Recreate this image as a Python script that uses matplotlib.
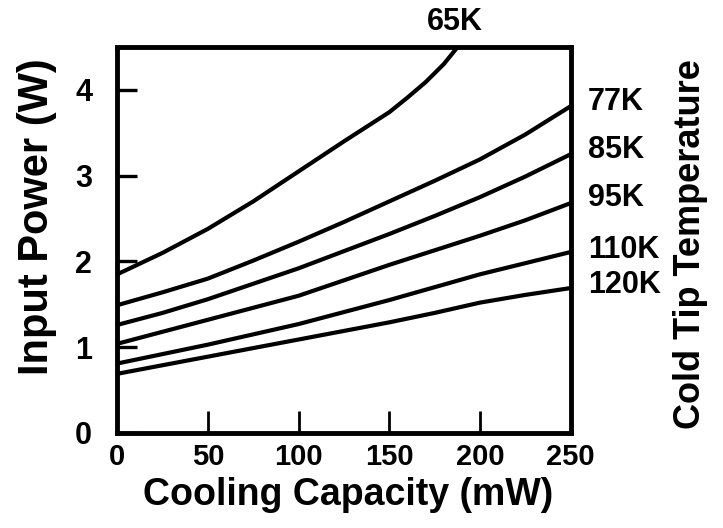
import matplotlib
matplotlib.use("Agg")
import matplotlib.pyplot as plt

plt.rcParams['font.family'] = ['Liberation Sans', 'DejaVu Sans']
plt.rcParams['font.weight'] = 'bold'

# Cooling capacity (mW)
capacity = [0, 25, 50, 75, 100, 125, 150, 175, 200, 225, 250]
# Input power (W) for each cold tip temperature
p65_x = [0, 25, 50, 75, 100, 125, 150, 160, 170, 180, 190]
p65 = [1.85, 2.10, 2.38, 2.70, 3.05, 3.40, 3.74, 3.91, 4.09, 4.30, 4.56]
p77 = [1.49, 1.64, 1.80, 2.01, 2.23, 2.46, 2.70, 2.94, 3.19, 3.48, 3.81]
p85 = [1.26, 1.40, 1.56, 1.74, 1.92, 2.12, 2.32, 2.53, 2.75, 2.99, 3.25]
p95 = [1.04, 1.18, 1.32, 1.46, 1.60, 1.78, 1.96, 2.13, 2.30, 2.48, 2.68]
p110 = [0.81, 0.92, 1.03, 1.15, 1.27, 1.41, 1.55, 1.70, 1.85, 1.98, 2.11]
p120 = [0.69, 0.79, 0.89, 0.99, 1.09, 1.19, 1.29, 1.40, 1.52, 1.61, 1.69]

temp_labels = ["77K", "85K", "95K", "110K", "120K"]
x_ticks = [0, 50, 100, 150, 200, 250]
y_ticks = [0, 1, 2, 3, 4]

W, H = 723, 528
fig = plt.figure(figsize=(7.23, 5.28), dpi=100)
ax = fig.add_axes([117.2 / W, 1 - 433 / H, (570.7 - 117.2) / W, (433 - 47) / H])

lw = 3.0
ax.plot(p65_x, p65, color='black', lw=lw, solid_joinstyle='round')
series = [p77, p85, p95, p110, p120]
for s in series:
    ax.plot(capacity, s, color='black', lw=lw, solid_joinstyle='round')

ax.set_xlim(0, 250)
ax.set_ylim(0, 4.5)
ax.set_xticks(x_ticks)
ax.set_yticks(y_ticks)
ax.set_xticklabels([str(t) for t in x_ticks], fontsize=21, fontweight='bold')
ax.set_yticklabels([str(t) for t in y_ticks], fontsize=22, fontweight='bold')
ax.tick_params(axis='y', direction='in', length=14.5, width=2.4, pad=18)
ax.tick_params(axis='x', direction='in', length=16, width=2.0, pad=7)
for sp in ax.spines.values():
    sp.set_linewidth(3.5)

# right-hand labels at curve ends
label_y_px = [102, 150, 198, 250, 285]
for lab, ypx in zip(temp_labels, label_y_px):
    fig.text(588 / W, 1 - ypx / H, lab, ha='left', va='center', fontsize=22, fontweight='bold')
fig.text(454.7 / W, 1 - 22.5 / H, "65K", ha='center', va='center', fontsize=22, fontweight='bold')

fig.text(348 / W, 1 - 495 / H, "Cooling Capacity (mW)", ha='center', va='center', fontsize=27, fontweight='bold')
fig.text(37 / W, 1 - 217 / H, "Input Power (W)", ha='center', va='center', rotation=90, fontsize=30, fontweight='bold')
fig.text(690 / W, 1 - 244 / H, "Cold Tip Temperature", ha='center', va='center', rotation=90, fontsize=26, fontweight='bold')

fig.savefig("out.png", dpi=100)
